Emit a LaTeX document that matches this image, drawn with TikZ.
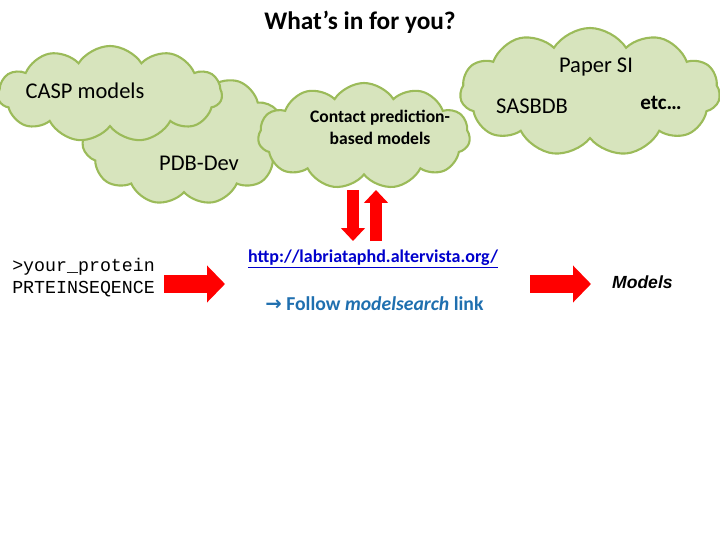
\documentclass[tikz,border=0pt]{standalone}
\usepackage{fontspec}
\setmainfont{Carlito}
\newfontfamily\seqfont{Liberation Mono}
\newfontfamily\arialfont{Liberation Sans}
\newfontfamily\symbfont{DejaVu Sans}
\usetikzlibrary{shapes.symbols,arrows.meta}

\definecolor{cloudfill}{HTML}{D7E4BD}
\definecolor{cloudline}{HTML}{9BBB59}
\definecolor{urlblue}{HTML}{0000CC}
\definecolor{linkblue}{HTML}{1F6FAF}

\begin{document}
\begin{tikzpicture}[
			source/.style={
				cloud,
				cloud puffs=11,
				cloud puff arc=115,
				cloud ignores aspect,
				draw=cloudline,
				fill=cloudfill,
				line width=1.5pt,
				inner sep=0pt
			},
			srctext/.style={
				font=\fontsize{16}{19}\selectfont
			},
			bigarrow/.style={
				red,
				line width=0.45cm,
				-{Triangle[length=0.45cm,width=0.9cm]}
			},
			thinarrow/.style={
				red,
				line width=0.31cm,
				-{Triangle[length=0.32cm,width=0.58cm]}
			}
			]
			\useasboundingbox (0,0) rectangle (18,-13.5);
			\node[font=\fontsize{18}{22}\selectfont\bfseries] (title) at (9,-0.55) {What’s in for you?};

			\node[source, minimum width=5.1cm, minimum height=3.35cm] (pdbcloud) at (4.6,-3.45) {};
			\node[source, minimum width=5.6cm, minimum height=2.4cm] (caspcloud) at (2.75,-2.35) {};
			\node[source, minimum width=5.3cm, minimum height=2.65cm] (contactcloud) at (9.1,-3.4) {};
			\node[source, minimum width=6.5cm, minimum height=3.2cm] (papercloud) at (14.75,-2.3) {};

			\node[srctext] (casp) at (2.125,-2.275) {CASP models};
			\node[srctext] (pdbdev) at (4.975,-4.075) {PDB-Dev};
			\node[font=\fontsize{12.5}{15.6}\selectfont\bfseries, align=center] (contact) at (9.5,-3.175) {Contact prediction-\\based models};
			\node[srctext] (papersi) at (14.9,-1.675) {Paper SI};
			\node[srctext] (sasbdb) at (13.3,-2.65) {SASBDB};
			\node[font=\fontsize{15}{18}\selectfont\bfseries] (etc) at (16.525,-2.575) {etc…};

			\node[font=\fontsize{13}{15.6}\selectfont\seqfont, align=left, anchor=west, inner sep=0pt] (seq) at (0.3,-6.95) {>your\_protein\\PRTEINSEQENCE};
			\node[font=\fontsize{12.8}{15}\selectfont\bfseries, text=urlblue] (url) at (9.325,-6.475) {\underline{http://labriataphd.altervista.org/}};
			\node[font=\fontsize{14}{17}\selectfont\bfseries, text=linkblue] (follow) at (9.36,-7.6) {{\symbfont\bfseries→} Follow \textit{modelsearch} link};
			\node[font=\fontsize{12.5}{15}\selectfont\arialfont\bfseries\itshape] (models) at (16.06,-7.05) {Models};

			\coordinate (in1) at (4.1,-7.1);
			\coordinate (in2) at (5.625,-7.1);
			\coordinate (out1) at (13.25,-7.1);
			\coordinate (out2) at (14.775,-7.1);
			\coordinate (down1) at (8.825,-4.75);
			\coordinate (down2) at (8.825,-6.025);
			\coordinate (up1) at (9.4,-6.025);
			\coordinate (up2) at (9.4,-4.75);
			\draw[bigarrow] (in1) -- (in2);
			\draw[bigarrow] (out1) -- (out2);
			\draw[thinarrow] (down1) -- (down2);
			\draw[thinarrow] (up1) -- (up2);
		\end{tikzpicture}
\end{document}
